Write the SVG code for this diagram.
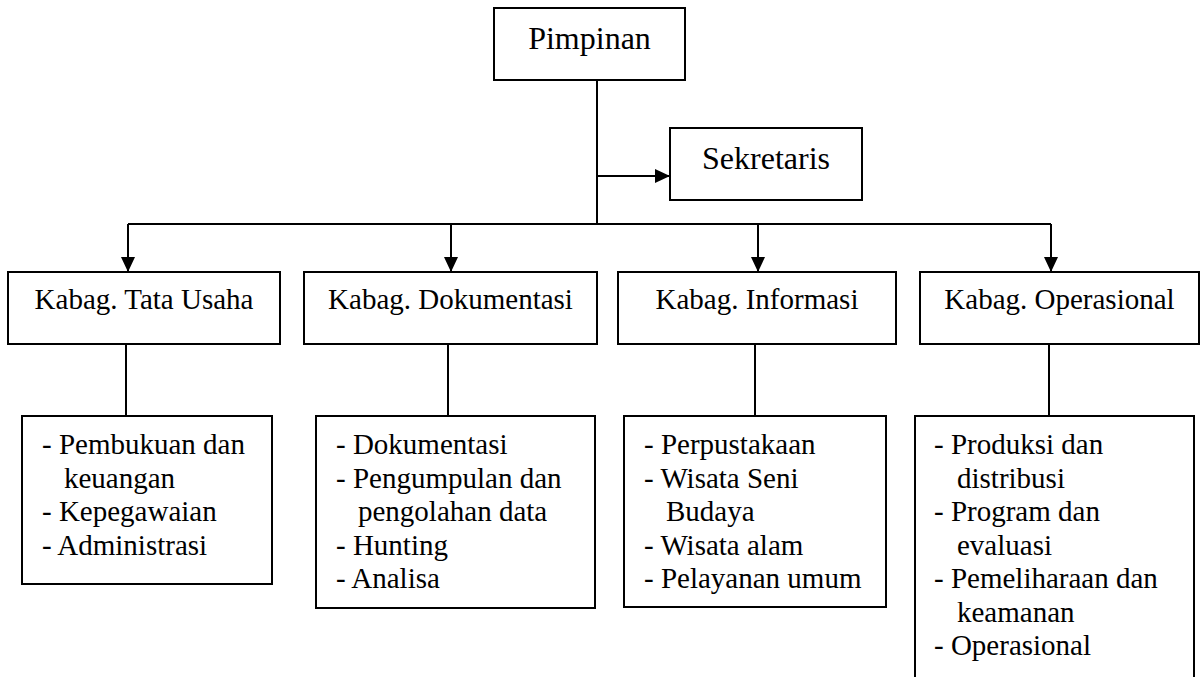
<svg xmlns="http://www.w3.org/2000/svg" width="1204" height="677" viewBox="0 0 1204 677">
<style>
.box{fill:#fff;stroke:#000;stroke-width:2}
.ln{fill:none;stroke:#000;stroke-width:2}
.t{font-family:"Liberation Serif","Times New Roman",serif;font-size:29px;fill:#000}
.big{font-size:32px}
.c{text-anchor:middle}
</style>
<defs>
<marker id="ah" markerUnits="userSpaceOnUse" markerWidth="15" markerHeight="14" refX="15" refY="7" orient="auto">
<path d="M0,0 L15,7 L0,14 z" fill="#000"/>
</marker>
</defs>
<rect width="1204" height="677" fill="#fff"/>
<g id="connectors">
<path class="ln" d="M597,80 V224"/>
<path class="ln" d="M597,176 H670" marker-end="url(#ah)"/>
<path class="ln" d="M128,224 H1051"/>
<path class="ln" d="M128,224 V272" marker-end="url(#ah)"/>
<path class="ln" d="M451,224 V272" marker-end="url(#ah)"/>
<path class="ln" d="M758,224 V272" marker-end="url(#ah)"/>
<path class="ln" d="M1051,224 V272" marker-end="url(#ah)"/>
<path class="ln" d="M126,344 V416"/>
<path class="ln" d="M448,344 V416"/>
<path class="ln" d="M755,344 V416"/>
<path class="ln" d="M1049,344 V416"/>
</g>
<g id="pimpinan">
<rect class="box" x="494" y="8" width="191" height="72"/>
<text class="t big c" x="589.5" y="49">Pimpinan</text>
</g>
<g id="sekretaris">
<rect class="box" x="670" y="128" width="192" height="72"/>
<text class="t big c" x="766" y="169">Sekretaris</text>
</g>
<g id="kabag-tu">
<rect class="box" x="8" y="272" width="272" height="72"/>
<text class="t c" x="144" y="309">Kabag. Tata Usaha</text>
</g>
<g id="kabag-dok">
<rect class="box" x="304" y="272" width="293" height="72"/>
<text class="t c" x="450.5" y="309">Kabag. Dokumentasi</text>
</g>
<g id="kabag-inf">
<rect class="box" x="618" y="272" width="278" height="72"/>
<text class="t c" x="757" y="309">Kabag. Informasi</text>
</g>
<g id="kabag-ops">
<rect class="box" x="920" y="272" width="279" height="72"/>
<text class="t c" x="1059.5" y="309">Kabag. Operasional</text>
</g>
<g id="tugas-tu">
<rect class="box" x="22" y="416" width="250" height="168"/>
<text class="t" x="42" y="454">- Pembukuan dan</text>
<text class="t" x="64" y="487.5">keuangan</text>
<text class="t" x="42" y="521">- Kepegawaian</text>
<text class="t" x="42" y="554.5">- Administrasi</text>
</g>
<g id="tugas-dok">
<rect class="box" x="316" y="416" width="279" height="192"/>
<text class="t" x="336" y="454">- Dokumentasi</text>
<text class="t" x="336" y="487.5">- Pengumpulan dan</text>
<text class="t" x="358" y="521">pengolahan data</text>
<text class="t" x="336" y="554.5">- Hunting</text>
<text class="t" x="336" y="588">- Analisa</text>
</g>
<g id="tugas-inf">
<rect class="box" x="624" y="416" width="262" height="191"/>
<text class="t" x="644" y="454">- Perpustakaan</text>
<text class="t" x="644" y="487.5">- Wisata Seni</text>
<text class="t" x="666" y="521">Budaya</text>
<text class="t" x="644" y="554.5">- Wisata alam</text>
<text class="t" x="644" y="588">- Pelayanan umum</text>
</g>
<g id="tugas-ops">
<rect class="box" x="915" y="416" width="279" height="300"/>
<text class="t" x="934" y="454">- Produksi dan</text>
<text class="t" x="957" y="487.5">distribusi</text>
<text class="t" x="934" y="521">- Program dan</text>
<text class="t" x="957" y="554.5">evaluasi</text>
<text class="t" x="934" y="588">- Pemeliharaan dan</text>
<text class="t" x="957" y="621.5">keamanan</text>
<text class="t" x="934" y="655">- Operasional</text>
</g>
</svg>
